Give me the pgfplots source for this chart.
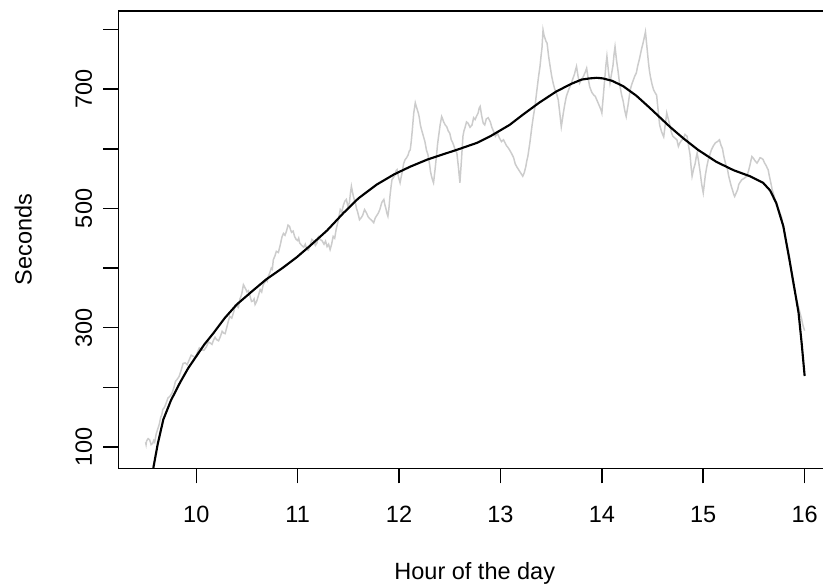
\documentclass[border=0pt]{standalone}
\usepackage{fontspec}
\setmainfont{Liberation Sans}
\usepackage{pgfplots}
\pgfplotsset{compat=1.18}
\definecolor{rgrey}{RGB}{204,204,204}
\begin{document}
\fontsize{9.4}{11}\selectfont
\begin{tikzpicture}
\begin{axis}[
  scale only axis,
  width=285pt, height=182.9pt,
  xmin=9.233, xmax=16.26,
  ymin=64.3, ymax=831,
  axis line style={line width=0.6pt},
  tick style={line width=0.6pt, black},
  tick align=outside,
  major tick length=6pt,
  xtick pos=bottom, ytick pos=left,
  xtick={10,11,12,13,14,15,16},
  ytick={100,200,300,400,500,600,700,800},
  yticklabels={100,,300,,500,,700,},
  /pgf/number format/assume math mode=true,
  xticklabel style={anchor=north, inner sep=0pt, font=\fontsize{9.4}{11}\selectfont},
  yticklabel style={rotate=90, anchor=base, inner sep=0pt, font=\fontsize{9.4}{11}\selectfont},
  xticklabel shift=9pt,
  yticklabel shift=4.6pt,
  xlabel={Hour of the day},
  ylabel={Seconds},
  xlabel style={at={(axis description cs:0.5,0)}, anchor=north, inner sep=0pt, yshift=-37.5pt, font=\fontsize{9.4}{11}\selectfont},
  ylabel style={at={(axis description cs:-0.122,0.5)}, anchor=base, inner sep=0pt, rotate=0, font=\fontsize{9.4}{11}\selectfont},
  clip=true,
]
\addplot[color=rgrey, line width=0.6pt] coordinates {
(9.50,108) (9.505,104) (9.51,110) (9.525,114) (9.54,112) (9.555,104) (9.57,106) (9.58,111) (9.59,108) (9.605,122) (9.62,130) (9.635,138) (9.65,150) (9.66,154) (9.67,163) (9.685,166) (9.70,172) (9.72,182) (9.74,185) (9.76,190) (9.78,200) (9.795,210) (9.81,213) (9.83,218) (9.85,228) (9.87,240) (9.89,241) (9.91,238) (9.93,246) (9.95,254) (9.97,252) (9.99,250) (10.01,258) (10.03,266) (10.05,263) (10.075,262) (10.10,268) (10.12,276) (10.14,274) (10.155,272) (10.17,279) (10.185,284) (10.20,280) (10.22,278) (10.24,286) (10.255,294) (10.27,291) (10.285,290) (10.30,300) (10.315,310) (10.33,319) (10.35,316) (10.37,327) (10.385,338) (10.40,336) (10.415,334) (10.43,348) (10.44,352) (10.45,358) (10.465,372) (10.48,367) (10.49,364) (10.50,360) (10.515,362) (10.53,353) (10.545,344) (10.56,345) (10.57,348) (10.58,339) (10.595,344) (10.61,352) (10.62,358) (10.63,364) (10.645,360) (10.66,372) (10.675,376) (10.69,380) (10.70,378) (10.71,386) (10.725,392) (10.74,400) (10.75,398) (10.76,414) (10.775,420) (10.79,428) (10.81,426) (10.83,440) (10.845,452) (10.86,458) (10.875,455) (10.89,462) (10.905,472) (10.92,470) (10.93,464) (10.94,460) (10.955,462) (10.97,453) (10.985,448) (11.00,446) (11.01,450) (11.02,442) (11.04,438) (11.06,435) (11.075,440) (11.09,431) (11.105,430) (11.12,436) (11.14,448) (11.16,445) (11.175,438) (11.19,442) (11.205,452) (11.22,448) (11.24,446) (11.26,440) (11.275,445) (11.29,436) (11.305,440) (11.32,431) (11.335,440) (11.35,453) (11.365,450) (11.38,465) (11.40,480) (11.42,498) (11.435,494) (11.45,505) (11.465,512) (11.48,515) (11.495,504) (11.51,509) (11.52,525) (11.53,537) (11.54,528) (11.55,520) (11.56,514) (11.57,509) (11.58,500) (11.59,495) (11.60,488) (11.61,481) (11.625,484) (11.64,488) (11.66,498) (11.68,492) (11.695,486) (11.71,483) (11.73,480) (11.75,476) (11.765,484) (11.78,488) (11.795,492) (11.81,498) (11.83,510) (11.85,515) (11.86,506) (11.87,500) (11.88,492) (11.89,487) (11.90,500) (11.91,520) (11.92,535) (11.93,548) (11.945,552) (11.96,556) (11.97,563) (11.98,565) (11.995,552) (12.01,543) (12.02,552) (12.03,560) (12.045,575) (12.06,582) (12.075,585) (12.09,590) (12.10,596) (12.11,598) (12.12,612) (12.13,630) (12.145,660) (12.16,677) (12.175,668) (12.19,660) (12.20,652) (12.21,640) (12.225,630) (12.24,621) (12.255,612) (12.27,598) (12.285,590) (12.30,575) (12.31,562) (12.32,554) (12.33,548) (12.34,543) (12.355,565) (12.37,590) (12.38,608) (12.39,621) (12.405,640) (12.42,654) (12.43,650) (12.44,645) (12.455,640) (12.47,637) (12.485,630) (12.50,626) (12.515,615) (12.53,610) (12.55,600) (12.57,593) (12.585,570) (12.60,543) (12.615,580) (12.63,621) (12.64,630) (12.65,635) (12.665,645) (12.68,643) (12.70,636) (12.72,640) (12.735,652) (12.75,649) (12.765,655) (12.78,660) (12.79,668) (12.80,671) (12.815,655) (12.83,643) (12.845,640) (12.86,650) (12.88,652) (12.90,645) (12.915,636) (12.93,630) (12.94,625) (12.95,621) (12.97,626) (12.99,618) (13.01,612) (13.03,615) (13.045,610) (13.06,605) (13.075,602) (13.09,598) (13.11,592) (13.13,585) (13.145,575) (13.16,570) (13.175,566) (13.19,562) (13.205,558) (13.22,554) (13.235,560) (13.25,570) (13.26,580) (13.27,587) (13.29,610) (13.31,637) (13.325,655) (13.34,670) (13.35,685) (13.36,699) (13.375,720) (13.39,738) (13.40,755) (13.41,770) (13.415,785) (13.42,799) (13.43,790) (13.44,785) (13.45,780) (13.46,777) (13.475,755) (13.49,738) (13.505,722) (13.52,710) (13.535,700) (13.55,695) (13.56,688) (13.57,682) (13.585,660) (13.60,637) (13.61,648) (13.62,660) (13.635,675) (13.65,688) (13.675,700) (13.70,710) (13.715,718) (13.73,725) (13.74,732) (13.75,738) (13.765,722) (13.78,710) (13.80,716) (13.82,722) (13.835,728) (13.85,735) (13.865,718) (13.88,704) (13.90,695) (13.92,690) (13.935,688) (13.95,682) (13.965,676) (13.98,670) (13.99,666) (14.00,660) (14.015,690) (14.03,720) (14.04,740) (14.05,755) (14.065,730) (14.08,710) (14.095,725) (14.11,740) (14.12,758) (14.13,771) (14.145,748) (14.16,730) (14.17,716) (14.18,704) (14.195,690) (14.21,680) (14.225,665) (14.24,654) (14.26,675) (14.28,699) (14.295,708) (14.31,715) (14.325,722) (14.34,727) (14.355,740) (14.37,750) (14.38,758) (14.39,766) (14.41,780) (14.43,796) (14.445,770) (14.46,744) (14.47,730) (14.48,720) (14.495,708) (14.51,699) (14.525,694) (14.54,690) (14.555,665) (14.57,640) (14.59,628) (14.61,620) (14.625,640) (14.64,660) (14.655,650) (14.67,640) (14.685,628) (14.70,621) (14.72,618) (14.74,615) (14.755,604) (14.77,610) (14.785,614) (14.80,616) (14.82,624) (14.84,621) (14.855,605) (14.87,590) (14.88,570) (14.89,554) (14.905,566) (14.92,575) (14.93,585) (14.94,593) (14.955,578) (14.97,560) (14.985,540) (15.00,526) (15.01,540) (15.02,555) (15.035,570) (15.05,582) (15.065,590) (15.08,598) (15.10,605) (15.12,610) (15.14,612) (15.16,615) (15.175,606) (15.19,600) (15.20,590) (15.21,582) (15.225,572) (15.24,565) (15.25,555) (15.26,548) (15.275,538) (15.29,530) (15.30,524) (15.31,520) (15.325,526) (15.34,532) (15.35,540) (15.36,543) (15.38,548) (15.40,550) (15.415,552) (15.43,554) (15.445,562) (15.46,572) (15.47,580) (15.48,587) (15.495,584) (15.51,580) (15.52,578) (15.53,576) (15.545,580) (15.56,585) (15.575,584) (15.59,582) (15.605,576) (15.62,572) (15.63,568) (15.64,565) (15.65,556) (15.66,548) (15.67,540) (15.68,531) (15.69,526) (15.70,520) (15.71,514) (15.72,509) (15.735,502) (15.75,495) (15.76,490) (15.77,487) (15.78,478) (15.79,470) (15.805,456) (15.82,442) (15.835,432) (15.85,420) (15.865,398) (15.88,380) (15.895,366) (15.91,355) (15.925,344) (15.94,335) (15.955,324) (15.97,315) (15.98,306) (15.99,300) (16.00,295)
};
\addplot[color=black, line width=0.85pt] coordinates {
(9.55,35) (9.58,68) (9.62,105) (9.675,146) (9.75,178) (9.84,208) (9.92,232) (10.00,252)
(10.08,272) (10.17,291) (10.28,316) (10.40,339) (10.55,361) (10.69,381) (10.85,400) (10.99,418)
(11.12,437) (11.29,463) (11.45,492) (11.60,517) (11.78,540) (11.95,557) (12.11,570) (12.28,582)
(12.44,591) (12.60,600) (12.77,610) (12.90,621) (13.09,640) (13.22,657) (13.38,677) (13.55,696)
(13.70,709) (13.80,716) (13.88,718) (13.95,719) (14.01,718) (14.10,714) (14.21,705) (14.34,689)
(14.47,669) (14.67,637) (14.80,618) (14.95,598) (15.13,578) (15.30,564) (15.46,554) (15.59,543)
(15.66,530) (15.72,509) (15.79,470) (15.85,414) (15.90,365) (15.94,325) (15.97,275) (16.00,219)
};
\end{axis}
\pgfresetboundingbox
\path[use as bounding box] (-47.4pt,-46.68pt) rectangle (281.8pt,187.3pt);
\end{tikzpicture}
\end{document}
